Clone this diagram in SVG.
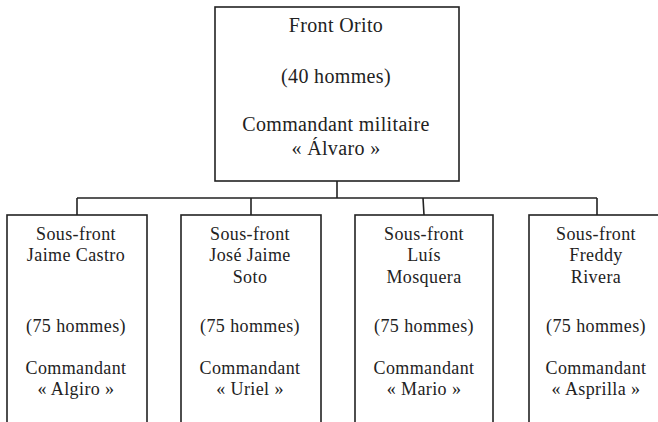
<svg xmlns="http://www.w3.org/2000/svg" width="658" height="422" viewBox="0 0 658 422">
<style>
.box{fill:#fff;stroke:#222;stroke-width:1.6}
.t{font-family:"Liberation Serif","Times New Roman",serif;fill:#222;text-anchor:middle}
.top{font-size:20px;letter-spacing:0.35px}
.sub{font-size:18px;letter-spacing:0.4px}
.c{fill:none;stroke:#222;stroke-width:1.6}
</style>
<rect width="658" height="422" fill="#fff"/>
<g id="connectors">
<path class="c" d="M337,181 V198 M77,198 H597 M77,198 V215 M251,198 V215 M423,198 L424,215 M597,198 V215"/>
</g>
<g id="front-orito">
<rect class="box" x="215" y="7" width="244" height="174"/>
<text class="t top" x="336" y="32">Front Orito</text>
<text class="t top" x="336" y="83">(40 hommes)</text>
<text class="t top" x="336" y="131">Commandant militaire</text>
<text class="t top" x="336" y="155">« Álvaro »</text>
</g>
<g id="jaime-castro">
<rect class="box" x="7" y="215" width="140" height="220"/>
<text class="t sub" x="76" y="240">Sous-front</text>
<text class="t sub" x="76" y="261">Jaime Castro</text>
<text class="t sub" x="76" y="332">(75 hommes)</text>
<text class="t sub" x="76" y="374">Commandant</text>
<text class="t sub" x="76" y="395">« Algiro »</text>
</g>
<g id="jose-jaime-soto">
<rect class="box" x="181" y="215" width="140" height="220"/>
<text class="t sub" x="250" y="240">Sous-front</text>
<text class="t sub" x="250" y="261">José Jaime</text>
<text class="t sub" x="250" y="283">Soto</text>
<text class="t sub" x="250" y="332">(75 hommes)</text>
<text class="t sub" x="250" y="374">Commandant</text>
<text class="t sub" x="250" y="395">« Uriel »</text>
</g>
<g id="luis-mosquera">
<rect class="box" x="355" y="215" width="138" height="220"/>
<text class="t sub" x="424" y="240">Sous-front</text>
<text class="t sub" x="424" y="261">Luís</text>
<text class="t sub" x="424" y="283">Mosquera</text>
<text class="t sub" x="424" y="332">(75 hommes)</text>
<text class="t sub" x="424" y="374">Commandant</text>
<text class="t sub" x="424" y="395">« Mario »</text>
</g>
<g id="freddy-rivera">
<rect class="box" x="529" y="215" width="140" height="220"/>
<text class="t sub" x="596" y="240">Sous-front</text>
<text class="t sub" x="596" y="261">Freddy</text>
<text class="t sub" x="596" y="283">Rivera</text>
<text class="t sub" x="596" y="332">(75 hommes)</text>
<text class="t sub" x="596" y="374">Commandant</text>
<text class="t sub" x="596" y="395">« Asprilla »</text>
</g>
</svg>
